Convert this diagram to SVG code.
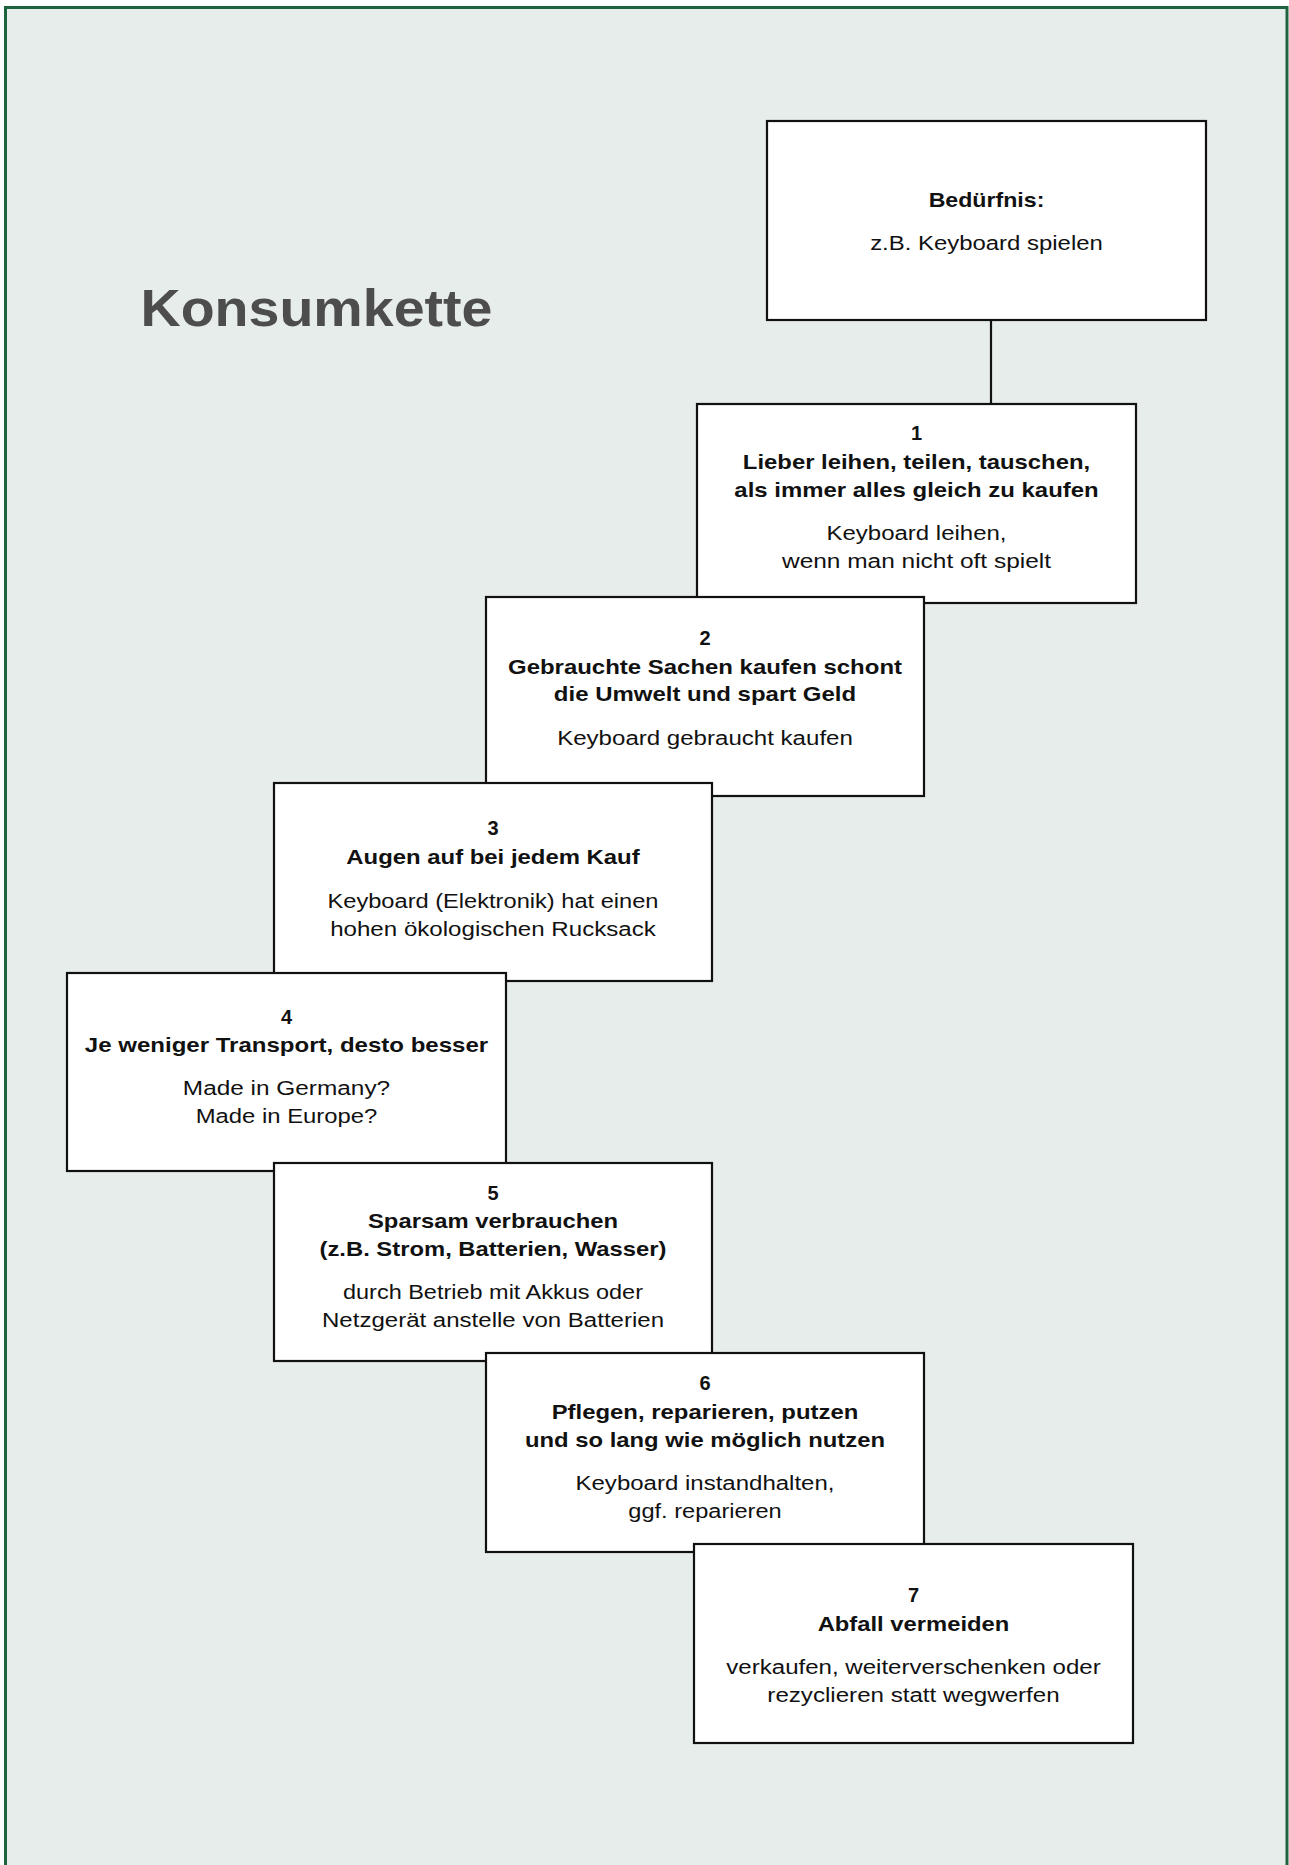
<svg xmlns="http://www.w3.org/2000/svg" width="1289" height="1865" viewBox="0 0 1289 1865">
<style>
.box{fill:#ffffff;stroke:#111111;stroke-width:2.2}
.num{font-family:"Liberation Sans",Arial,sans-serif;font-weight:bold;font-size:20px;fill:#111111;text-anchor:middle}
.ttl{font-family:"Liberation Sans",Arial,sans-serif;font-weight:bold;font-size:20.5px;fill:#111111;text-anchor:middle}
.txt{font-family:"Liberation Sans",Arial,sans-serif;font-size:20px;fill:#111111;text-anchor:middle}
.conn{stroke:#111111;stroke-width:2.2;fill:none}
</style>
<rect x="5.5" y="7.5" width="1281.5" height="1900" fill="#e7edea" stroke="#1d6340" stroke-width="3"/>
<text x="140.5" y="326" font-family="'Liberation Sans',Arial,sans-serif" font-weight="bold" font-size="52" fill="#4d4d4d" textLength="352" lengthAdjust="spacingAndGlyphs">Konsumkette</text>
<g id="connectors">
<line class="conn" x1="991" y1="320" x2="991" y2="404"/>
</g>
<g id="need">
<rect class="box" x="767" y="121" width="439" height="199"/>
<text class="ttl" x="986.5" y="207" font-size="21" textLength="115.7" lengthAdjust="spacingAndGlyphs">Bedürfnis:</text>
<text class="txt" x="986.5" y="250" font-size="21" textLength="232.7" lengthAdjust="spacingAndGlyphs">z.B. Keyboard spielen</text>
</g>
<g id="step1">
<rect class="box" x="697" y="404" width="439" height="199"/>
<text class="num" x="916.5" y="440">1</text>
<text class="ttl" x="916.5" y="469" textLength="347.3" lengthAdjust="spacingAndGlyphs">Lieber leihen, teilen, tauschen,</text>
<text class="ttl" x="916.5" y="496.5" textLength="364.3" lengthAdjust="spacingAndGlyphs">als immer alles gleich zu kaufen</text>
<text class="txt" x="916.5" y="540" textLength="180" lengthAdjust="spacingAndGlyphs">Keyboard leihen,</text>
<text class="txt" x="916.5" y="567.5" textLength="269" lengthAdjust="spacingAndGlyphs">wenn man nicht oft spielt</text>
</g>
<g id="step2">
<rect class="box" x="486" y="597" width="438" height="199"/>
<text class="num" x="705" y="645">2</text>
<text class="ttl" x="705" y="673.5" textLength="394" lengthAdjust="spacingAndGlyphs">Gebrauchte Sachen kaufen schont</text>
<text class="ttl" x="705" y="701" textLength="302.3" lengthAdjust="spacingAndGlyphs">die Umwelt und spart Geld</text>
<text class="txt" x="705" y="745" textLength="295.7" lengthAdjust="spacingAndGlyphs">Keyboard gebraucht kaufen</text>
</g>
<g id="step3">
<rect class="box" x="274" y="783" width="438" height="198"/>
<text class="num" x="493" y="835">3</text>
<text class="ttl" x="493" y="864" textLength="293.3" lengthAdjust="spacingAndGlyphs">Augen auf bei jedem Kauf</text>
<text class="txt" x="493" y="907.5" textLength="331" lengthAdjust="spacingAndGlyphs">Keyboard (Elektronik) hat einen</text>
<text class="txt" x="493" y="935.5" textLength="325.7" lengthAdjust="spacingAndGlyphs">hohen ökologischen Rucksack</text>
</g>
<g id="step4">
<rect class="box" x="67" y="973" width="439" height="198"/>
<text class="num" x="286.5" y="1023.5">4</text>
<text class="ttl" x="286.5" y="1051.5" textLength="403.3" lengthAdjust="spacingAndGlyphs">Je weniger Transport, desto besser</text>
<text class="txt" x="286.5" y="1095" textLength="207.3" lengthAdjust="spacingAndGlyphs">Made in Germany?</text>
<text class="txt" x="286.5" y="1122.5" textLength="181.7" lengthAdjust="spacingAndGlyphs">Made in Europe?</text>
</g>
<g id="step5">
<rect class="box" x="274" y="1163" width="438" height="198"/>
<text class="num" x="493" y="1199.5">5</text>
<text class="ttl" x="493" y="1227.5" textLength="250" lengthAdjust="spacingAndGlyphs">Sparsam verbrauchen</text>
<text class="ttl" x="493" y="1255.5" textLength="347" lengthAdjust="spacingAndGlyphs">(z.B. Strom, Batterien, Wasser)</text>
<text class="txt" x="493" y="1299" textLength="300" lengthAdjust="spacingAndGlyphs">durch Betrieb mit Akkus oder</text>
<text class="txt" x="493" y="1326.5" textLength="342" lengthAdjust="spacingAndGlyphs">Netzgerät anstelle von Batterien</text>
</g>
<g id="step6">
<rect class="box" x="486" y="1353" width="438" height="199"/>
<text class="num" x="705" y="1389.5">6</text>
<text class="ttl" x="705" y="1418.5" textLength="306.7" lengthAdjust="spacingAndGlyphs">Pflegen, reparieren, putzen</text>
<text class="ttl" x="705" y="1446.5" textLength="360" lengthAdjust="spacingAndGlyphs">und so lang wie möglich nutzen</text>
<text class="txt" x="705" y="1490" textLength="259" lengthAdjust="spacingAndGlyphs">Keyboard instandhalten,</text>
<text class="txt" x="705" y="1517.5" textLength="153.3" lengthAdjust="spacingAndGlyphs">ggf. reparieren</text>
</g>
<g id="step7">
<rect class="box" x="694" y="1544" width="439" height="199"/>
<text class="num" x="913.5" y="1601.5">7</text>
<text class="ttl" x="913.5" y="1630.5" textLength="191.7" lengthAdjust="spacingAndGlyphs">Abfall vermeiden</text>
<text class="txt" x="913.5" y="1673.5" textLength="374.3" lengthAdjust="spacingAndGlyphs">verkaufen, weiterverschenken oder</text>
<text class="txt" x="913.5" y="1701.5" textLength="292.3" lengthAdjust="spacingAndGlyphs">rezyclieren statt wegwerfen</text>
</g>
</svg>
